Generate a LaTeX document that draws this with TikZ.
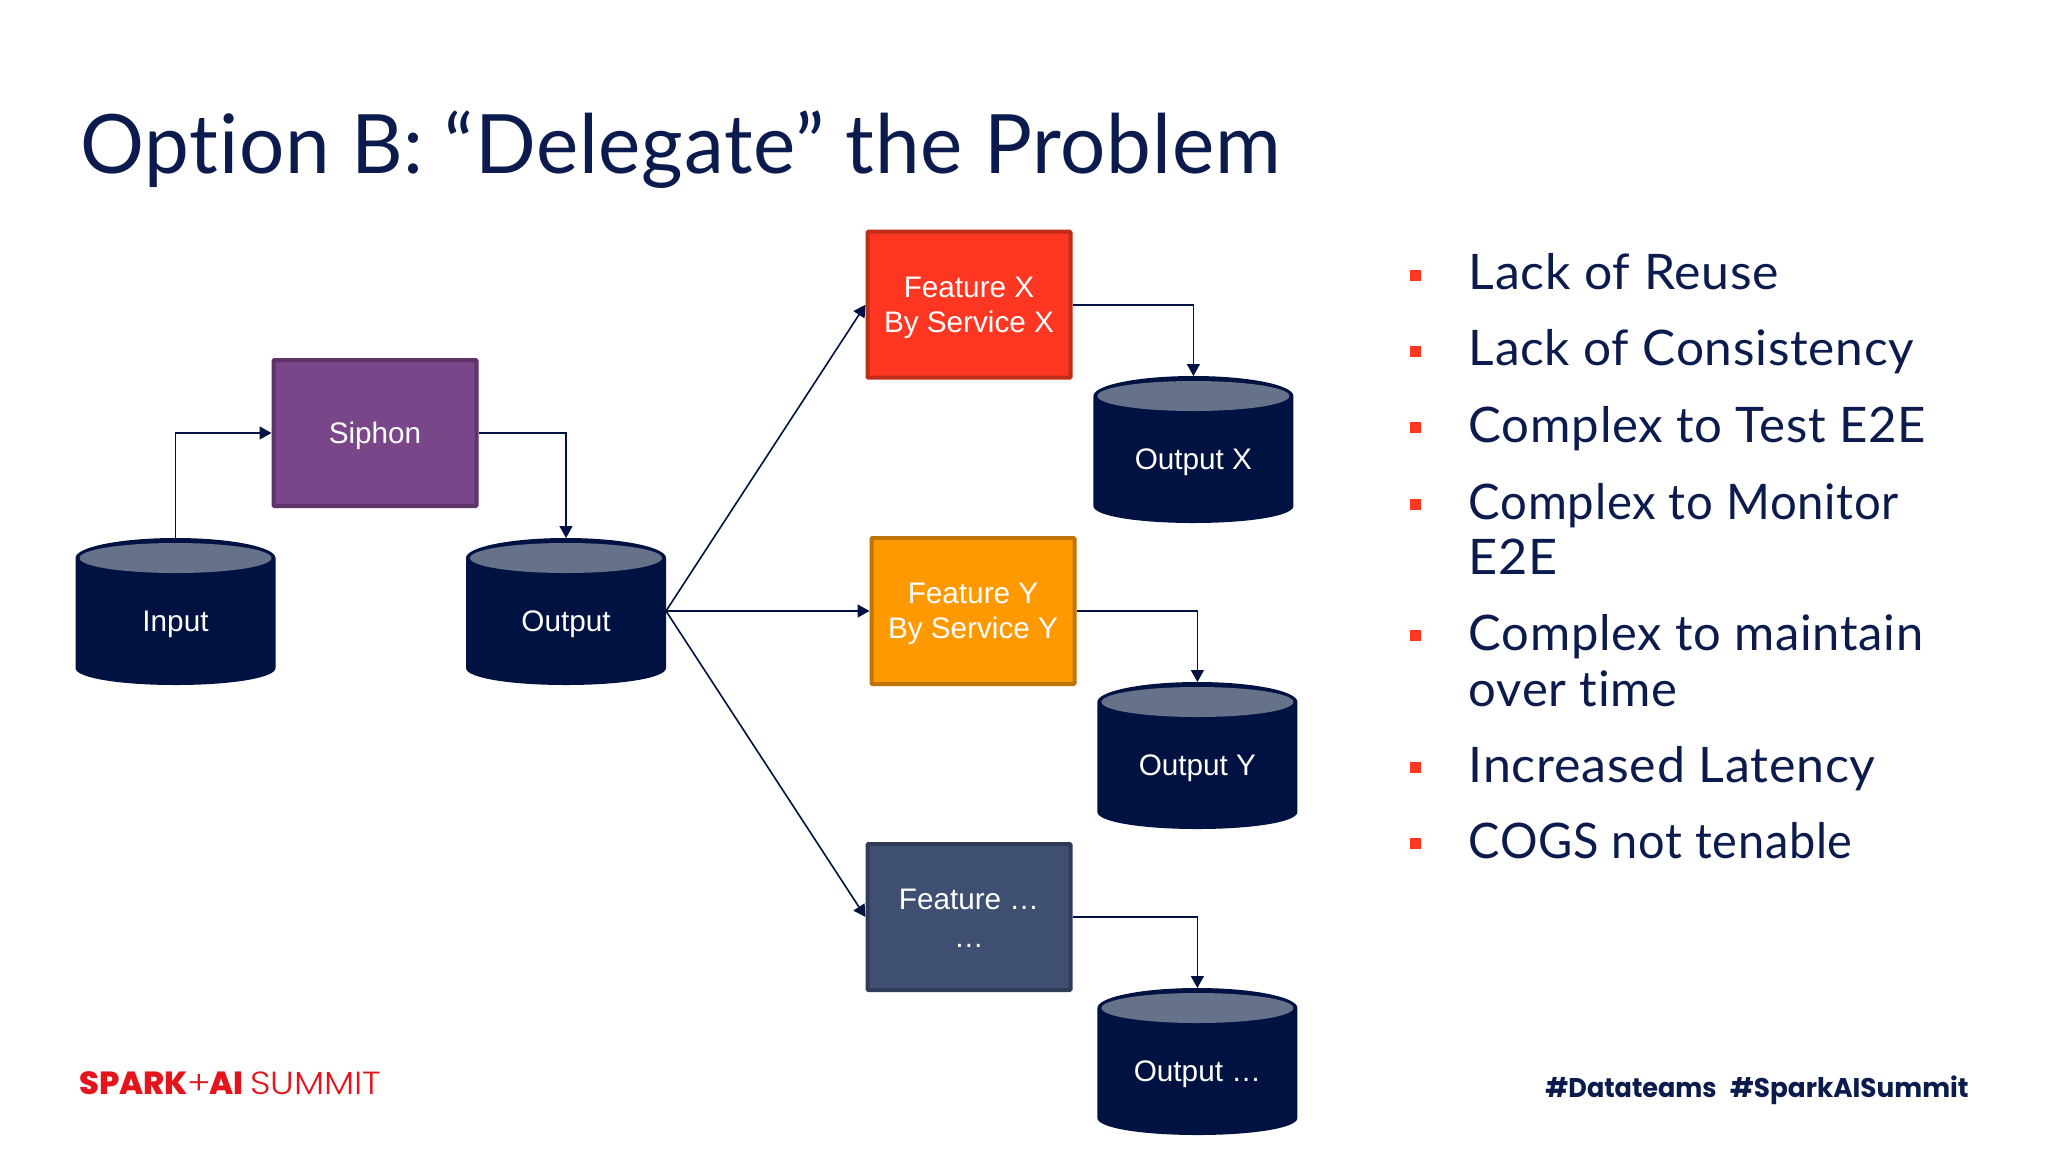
\documentclass[tikz,border=0pt]{standalone}
\usepackage{fontspec}
\usetikzlibrary{arrows.meta,calc}
\setmainfont{Liberation Sans}
\newfontfamily\headfont[LetterSpace=1.0,FakeStretch=0.975,Ligatures=NoCommon]{Lato}
\newfontfamily\bodyfont[LetterSpace=1.5,Ligatures=NoCommon]{Lato}
\newfontfamily\logobold[FakeStretch=1.0,UprightFont=* ExtraBold]{Poppins}
\newfontfamily\logolight[FakeStretch=1.13,UprightFont=* Light]{Poppins}
\newfontfamily\tagfont[FakeStretch=0.96,UprightFont=* Bold]{Poppins}
\newcommand\sized[2]{{\addfontfeature{FakeStretch=#1}#2}}
\definecolor{navy}{HTML}{001242}
\definecolor{inktext}{HTML}{0B1B4D}
\definecolor{cyltop}{HTML}{667289}
\definecolor{bulletred}{HTML}{FF3621}
\definecolor{logored}{HTML}{E3141C}
\definecolor{siphonfill}{HTML}{784689}
\definecolor{siphonline}{HTML}{5E3369}
\definecolor{xfill}{HTML}{FF3621}
\definecolor{xline}{HTML}{BF2C1A}
\definecolor{yfill}{HTML}{FF9900}
\definecolor{yline}{HTML}{BF7408}
\definecolor{zfill}{HTML}{3F4F71}
\definecolor{zline}{HTML}{2F3C58}
\tikzset{
  flow/.style={draw=navy,line width=.8pt,-{Triangle[length=6pt,width=6.5pt]}},
  box/.style={draw,line width=2pt,minimum width=101.5pt,minimum height=73pt,inner sep=0pt,outer sep=1pt,rounded corners=.5pt},
  boxtext/.style={text=white,font=\fontsize{14.85}{17.8}\selectfont,align=center,inner sep=0pt},
  cylbox/.style={minimum width=100pt,minimum height=73pt,inner sep=0pt,outer sep=0pt},
  cyltext/.style={text=white,font=\fontsize{14.85}{17.8}\selectfont,anchor=base,inner sep=0pt},
  bullettext/.style={text=inktext,font=\bodyfont\fontsize{24.5}{30}\selectfont,anchor=base west,inner sep=0pt},
  bulletmark/.style={fill=bulletred,inner sep=0pt,minimum size=5.5pt},
}
% name, centre x, top y, text
\newcommand\cylinder[4]{%
  \fill[navy] (#2-100,#3+20) .. controls (#2-100,#3+9) and (#2-55,#3) .. (#2,#3)
    .. controls (#2+55,#3) and (#2+100,#3+9) .. (#2+100,#3+20)
    -- (#2+100,#3+130) .. controls (#2+100,#3+140) and (#2+55,#3+147) .. (#2,#3+147)
    .. controls (#2-55,#3+147) and (#2-100,#3+140) .. (#2-100,#3+130) -- cycle;
  \fill[cyltop] (#2-96,#3+20) .. controls (#2-96,#3+11.5) and (#2-53,#3+5) .. (#2,#3+5)
    .. controls (#2+53,#3+5) and (#2+96,#3+11.5) .. (#2+96,#3+20)
    .. controls (#2+96,#3+28.5) and (#2+53,#3+35) .. (#2,#3+35)
    .. controls (#2-53,#3+35) and (#2-96,#3+28.5) .. (#2-96,#3+20) -- cycle;
  \node[cylbox] (#1) at (#2,#3+73) {};
  \node[cyltext] (#1text) at (#2,#3+93) {#4};
}
\begin{document}
\begin{tikzpicture}[x=.5pt,y=-.5pt]
\useasboundingbox (0,0) rectangle (2048,1152);
\fill[white] (0,0) rectangle (2048,1152);
\node[anchor=base west,inner sep=0pt,text=inktext,font=\headfont\fontsize{41}{50}\selectfont] (title) at (80,173) {Option B: “Delegate” the Problem};

\cylinder{input}{175.5}{538}{Input}
\cylinder{output}{566}{538}{Output}
\cylinder{outx}{1193.4}{376}{Output X}
\cylinder{outy}{1197.4}{682}{Output Y}
\cylinder{outz}{1197.4}{988}{Output …}

\node[box,draw=siphonline,fill=siphonfill] (siphon) at (375,433) {};
\node[box,draw=xline,fill=xfill] (fx) at (969,304.7) {};
\node[box,draw=yline,fill=yfill] (fy) at (973,611) {};
\node[box,draw=zline,fill=zfill] (fz) at (969,917) {};
\node[boxtext] (siphontext) at (375,436) {Siphon};
\node[boxtext] (fxtext) at (969,308) {Feature X\\By Service X};
\node[boxtext] (fytext) at (973,614) {Feature Y\\By Service Y};
\node[boxtext] (fztext) at (969,918.5) {Feature …\\[1pt]…};

\draw[flow] (input.north) |- (siphon.west);
\draw[flow] (siphon.east) -| (output.north);
\draw[flow] (output.east) -- (fx.west);
\draw[flow] (output.east) -- (fy.west);
\draw[flow] (output.east) -- (fz.west);
\draw[flow] (fx.east) -| (outx.north);
\draw[flow] (fy.east) -| (outy.north);
\draw[flow] (fz.east) -| (outz.north);

\node[bulletmark] (b1) at (1415.5,275) {};
\node[bulletmark] (b2) at (1415.5,351) {};
\node[bulletmark] (b3) at (1415.5,427.5) {};
\node[bulletmark] (b4) at (1415.5,504.5) {};
\node[bulletmark] (b5) at (1415.5,635.5) {};
\node[bulletmark] (b6) at (1415.5,767) {};
\node[bulletmark] (b7) at (1415.5,843.5) {};
\node[bullettext] (t1) at (1468.5,289.5) {\sized{1.02}{Lack of Reuse}};
\node[bullettext] (t2) at (1468.5,365.5) {\sized{1.012}{Lack of Consistency}};
\node[bullettext] (t3) at (1468.5,442) {\sized{1.003}{Complex to Test E2E}};
\node[bullettext] (t4a) at (1468.5,519) {\sized{0.965}{Complex to Monitor}};
\node[bullettext] (t4b) at (1468.5,574.5) {\sized{1.03}{E2E}};
\node[bullettext] (t5a) at (1468.5,650) {\sized{0.997}{Complex to maintain}};
\node[bullettext] (t5b) at (1468.5,706) {over time};
\node[bullettext] (t6) at (1468.5,782.5) {\sized{1.023}{Increased Latency}};
\node[bullettext] (t7) at (1468.5,858.5) {\sized{0.957}{COGS not tenable}};

\node[anchor=base west,inner sep=0pt,text=logored,font=\fontsize{16}{20}\selectfont] (logo) at (79,1094)
  {{\logobold SPARK}{\logolight\hspace{-.5pt}+\hspace{-.5pt}}{\logobold AI}\hspace{3.2pt}{\logolight\addfontfeature{FakeStretch=1.12}SUMMIT}};
\node[anchor=base west,inner sep=0pt,text=inktext,font=\tagfont\fontsize{13.5}{16}\selectfont] (tag1) at (1545,1097.5) {\sized{0.945}{\#Datateams}};
\node[anchor=base east,inner sep=0pt,text=inktext,font=\tagfont\fontsize{13.5}{16}\selectfont] (tag2) at (1969,1097.5) {\sized{0.975}{\#SparkAISummit}};
\end{tikzpicture}
\end{document}
